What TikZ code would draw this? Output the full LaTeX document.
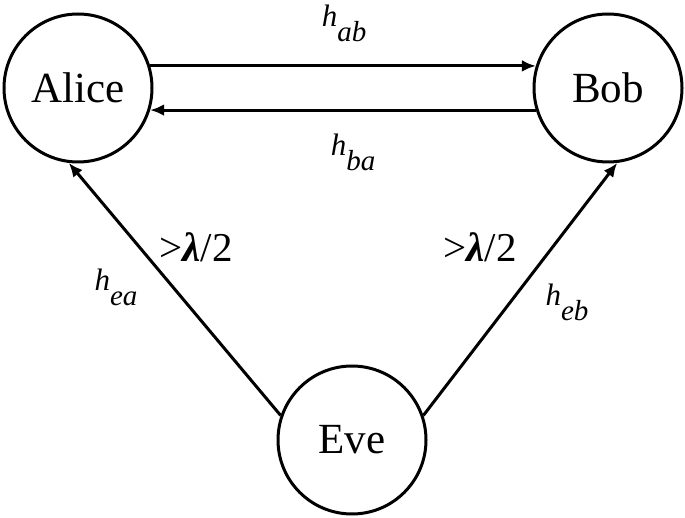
\documentclass[tikz,border=0pt]{standalone}
\usepackage{fontspec}
\setmainfont{Liberation Serif}
\usetikzlibrary{arrows.meta}

\newcommand{\chan}[1]{\textit{h}\raisebox{-15pt}{\fontsize{29}{31}\selectfont\textit{#1}}}

\begin{document}
\begin{tikzpicture}[
  x = 1pt,
  y = -1pt,
  line width = 3pt,
  >={Latex[length=14pt, width=12pt]},
  party/.style = {draw, circle, minimum size = 148pt, inner sep = 0pt,
                  font = \fontsize{43}{46}\selectfont},
  gain/.style = {inner sep = 0pt, font = \fontsize{31}{33}\selectfont},
  bound/.style = {inner sep = 0pt, font = \fontsize{41}{44}\selectfont},
  ]

  \useasboundingbox (0, 0) rectangle (685, 518);

  \node at (78, 88)
  [party, name = Alice] {Alice};

  \node at (608, 88)
  [party, name = Bob] {Bob};

  \node at (352, 440)
  [party, name = Eve] {Eve};

  \draw [->] (Alice.17) to (Bob.163);

  \draw [->] (Bob.197) to (Alice.343);

  \draw [->] (Eve.161) to (Alice.263);

  \draw [->] (Eve.19) to (Bob.277);

  \node at (344, 23) [gain, name = Hab] {\chan{ab}};

  \node at (353, 152) [gain, name = Hba] {\chan{ba}};

  \node at (116, 287) [gain, name = Hea] {\chan{ea}};

  \node at (567, 302) [gain, name = Heb] {\chan{eb}};

  \node at (196, 247) [bound, name = LamA] {>\textbf{\textit{λ}}/2};

  \node at (480, 247) [bound, name = LamB] {>\textbf{\textit{λ}}/2};

\end{tikzpicture}
\end{document}
